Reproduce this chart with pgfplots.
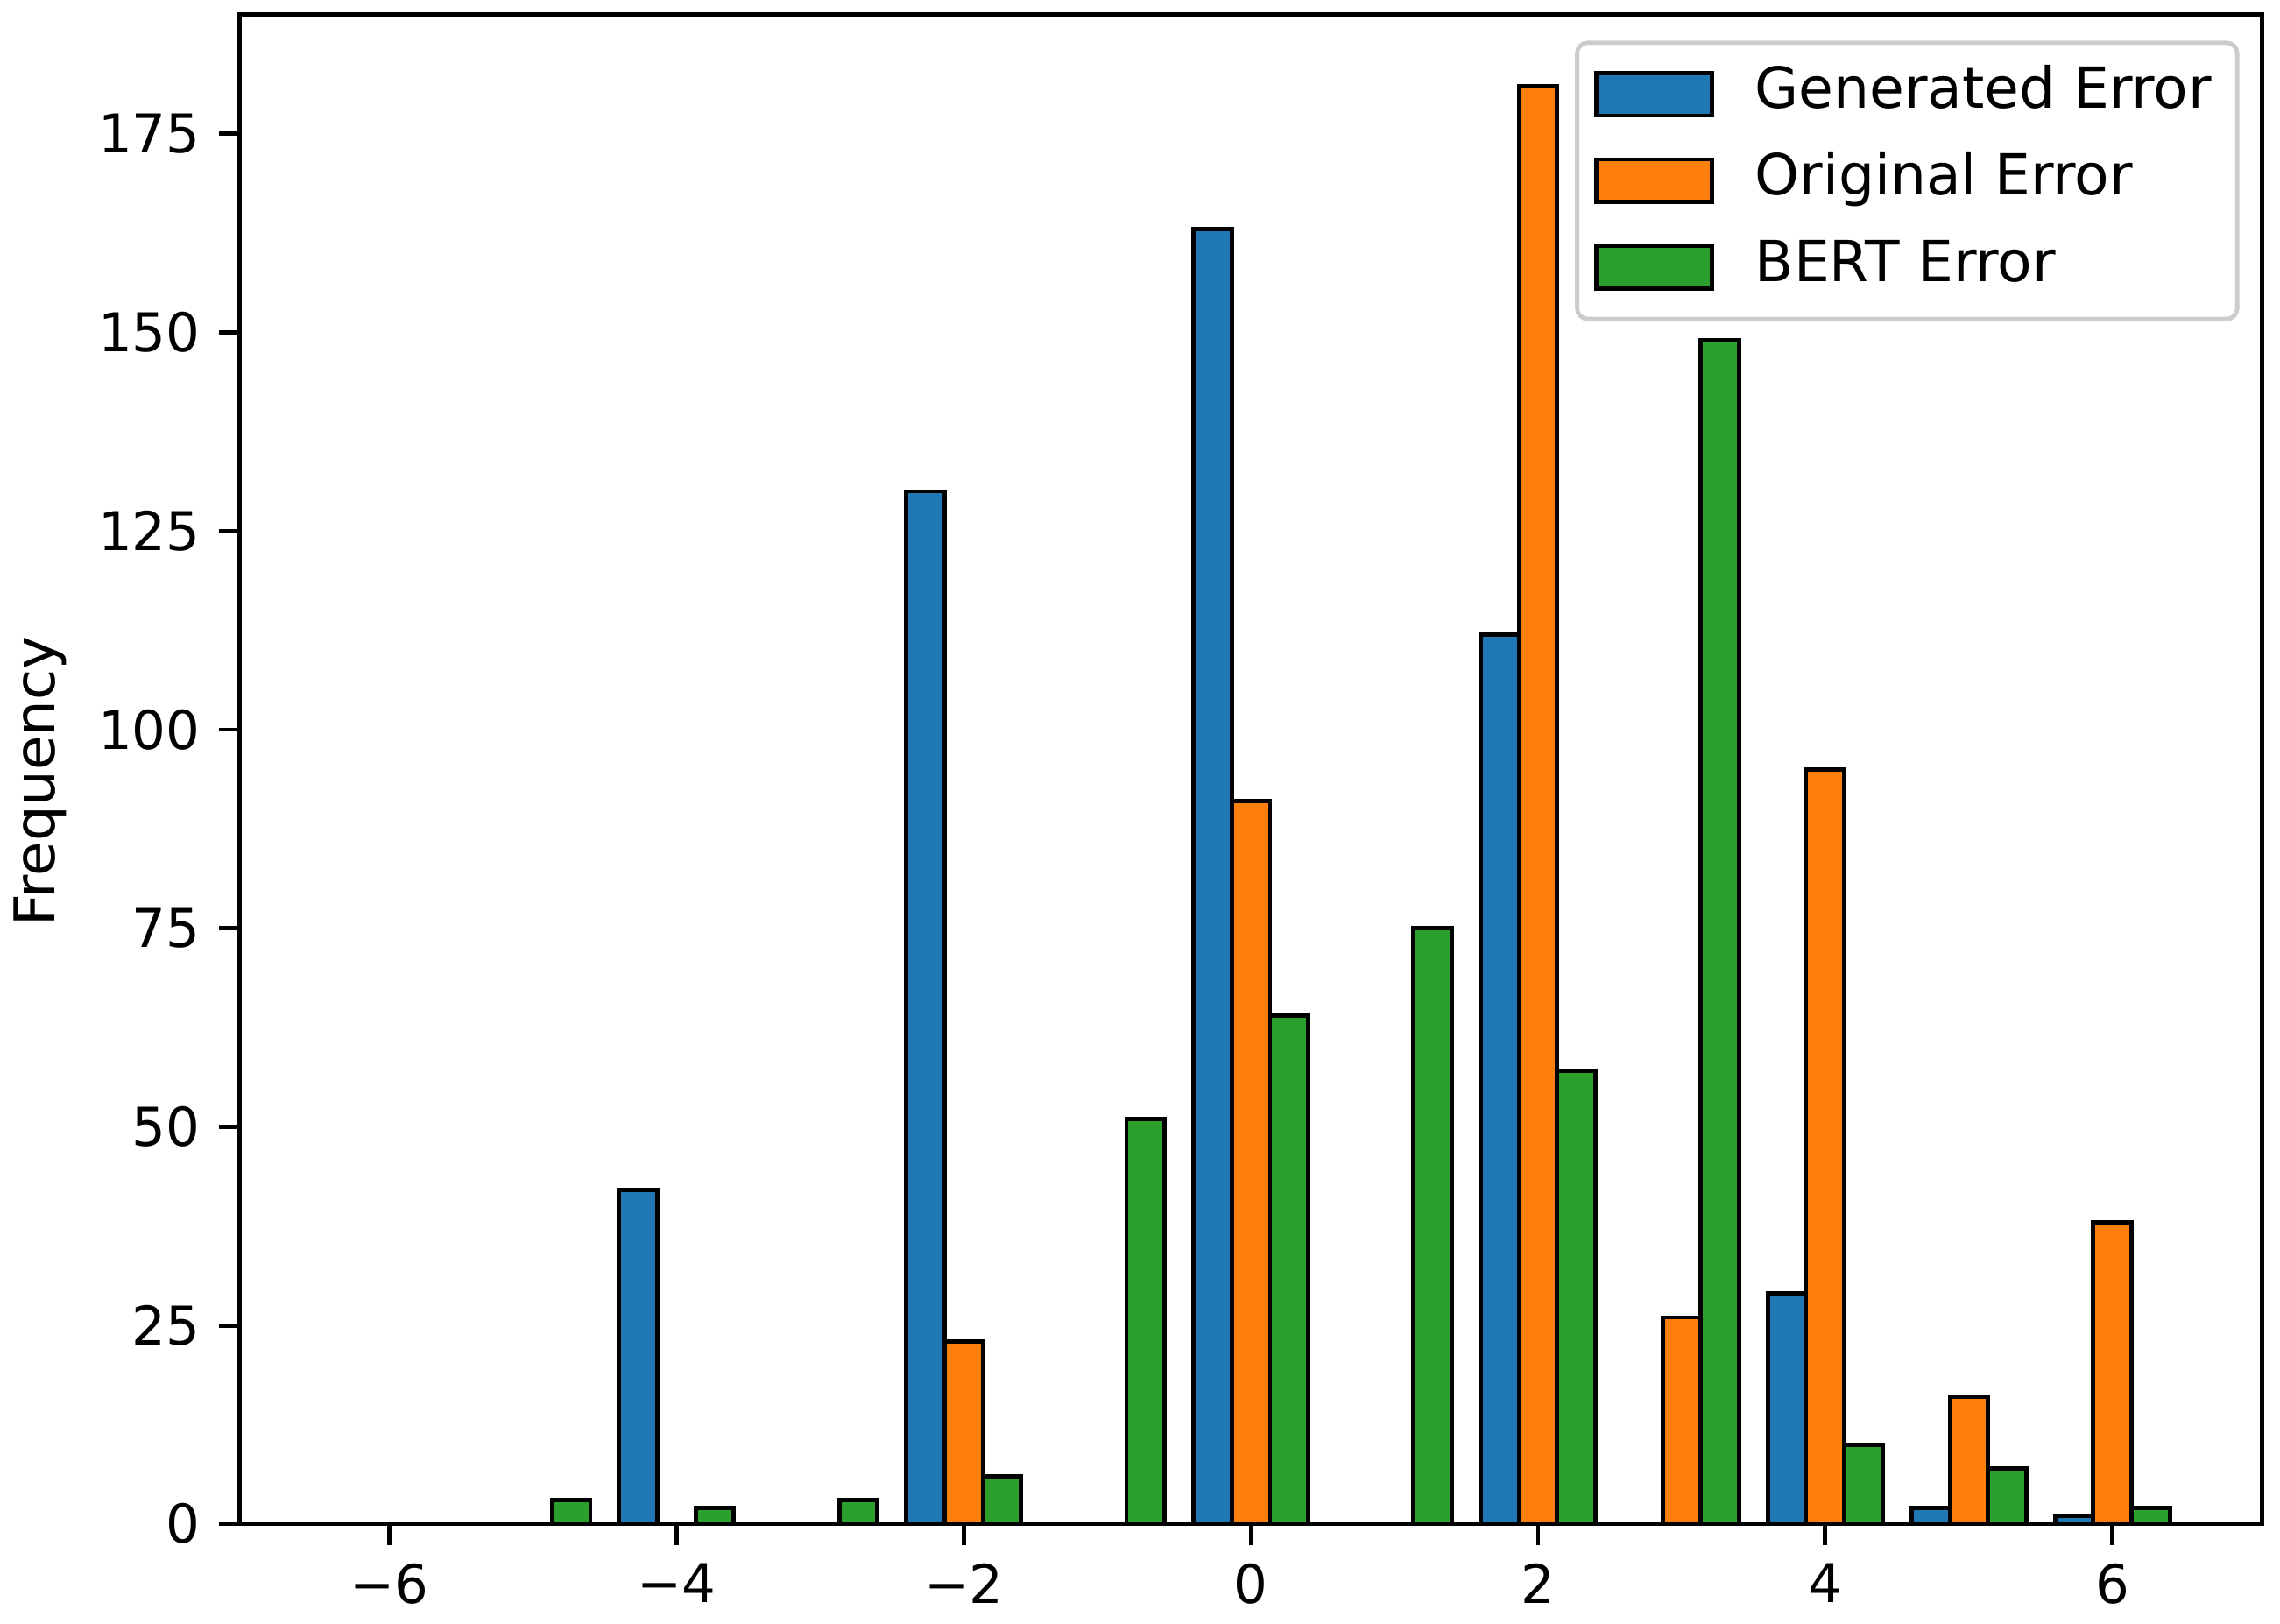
\documentclass[border=0pt]{standalone}
\usepackage{fontspec}
\setmainfont{DejaVu Sans}
\usepackage{pgfplots}
\pgfplotsset{compat=1.18}
\definecolor{mblue}{HTML}{1F77B4}
\definecolor{morange}{HTML}{FF7F0E}
\definecolor{mgreen}{HTML}{2CA02C}
\pgfplotsset{
  mylegend/.style={legend image code/.code={\draw[##1, line width=0.8pt, sharp corners] (0pt,-4pt) rectangle (21.7pt,4pt);}},
}
\begin{document}
\begin{tikzpicture}
\begin{axis}[
  scale only axis, width=378.4pt, height=282.5pt,
  xmin=-7.04, xmax=7.04, ymin=0, ymax=190.05,
  xtick={-6,-4,-2,0,2,4,6}, xticklabels={−6,−4,−2,0,2,4,6},
  ytick={0,25,...,175},
  tick align=outside, xtick pos=bottom, ytick pos=left,
  major tick length=3.9pt,
  tick style={black, line width=0.8pt},
  axis line style={line width=0.8pt},
  /pgf/number format/assume math mode=true,
  ylabel=Frequency,
  ylabel style={at={(axis description cs:-0.1123,0.492)}, anchor=north, inner sep=0pt, font=\fontsize{10.5pt}{12pt}\selectfont},
  legend cell align=left,
  legend style={at={(1,1)}, xshift=-4.2pt, yshift=-4.9pt, anchor=north east,
    draw=black!20, line width=0.8pt, rounded corners=2pt, fill=white,
    font=\fontsize{10.6pt}{12pt}\selectfont,
    inner xsep=3.2pt, inner ysep=4.6pt, row sep=6.1pt,
    nodes={inner sep=0pt, text height=7.7pt, text depth=2.4pt},
    /tikz/every odd column/.append style={column sep=7.6pt}},
]
\addplot[ybar, bar width=0.2667, bar shift=-0.2667, fill=mblue, draw=black, line width=0.8pt, mylegend] coordinates {
(-6,0) (-5,0) (-4,42) (-3,0) (-2,130) (-1,0) (0,163) (1,0) (2,112) (3,0) (4,29) (5,2) (6,1)};
\addlegendentry{Generated Error\hspace*{1.6pt}}
\addplot[ybar, bar width=0.2667, bar shift=0, fill=morange, draw=black, line width=0.8pt, mylegend] coordinates {
(-6,0) (-5,0) (-4,0) (-3,0) (-2,23) (-1,0) (0,91) (1,0) (2,181) (3,26) (4,95) (5,16) (6,38)};
\addlegendentry{Original Error}
\addplot[ybar, bar width=0.2667, bar shift=0.2667, fill=mgreen, draw=black, line width=0.8pt, mylegend] coordinates {
(-6,0) (-5,3) (-4,2) (-3,3) (-2,6) (-1,51) (0,64) (1,75) (2,57) (3,149) (4,10) (5,7) (6,2)};
\addlegendentry{BERT Error}
\end{axis}
\path[use as bounding box] (-44.9pt,-18.7pt) rectangle (381.8pt,285.2pt);
\end{tikzpicture}
\end{document}
